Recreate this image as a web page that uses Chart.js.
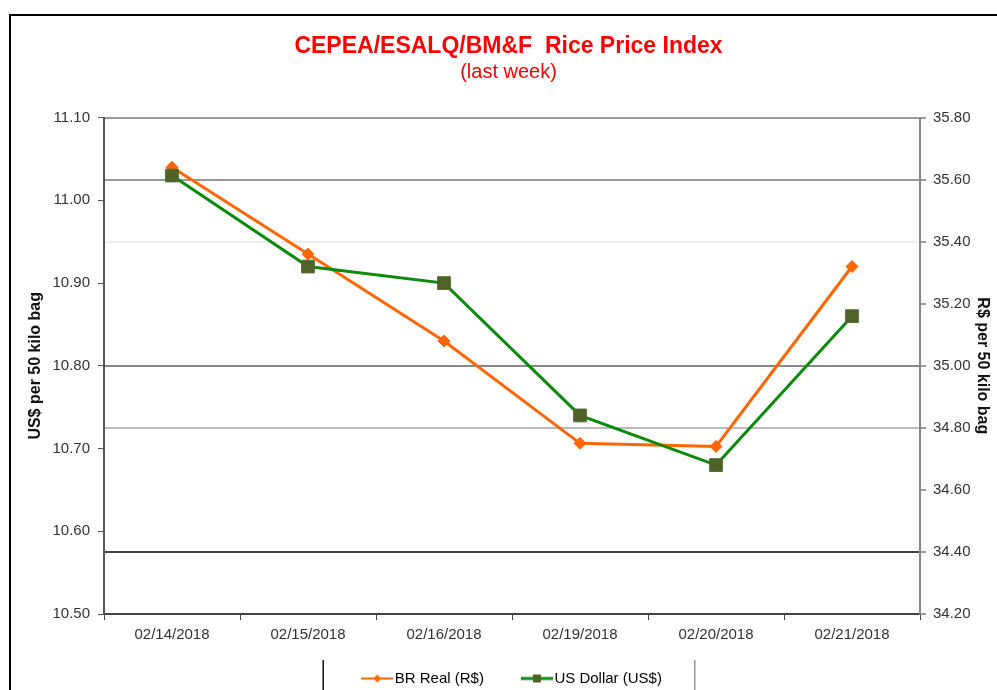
<!DOCTYPE html>
<html>
<head>
<meta charset="utf-8">
<script src="https://cdn.jsdelivr.net/npm/chart.js@4.4.1/dist/chart.umd.min.js"></script>
<style>
    body { margin: 0; background: #fff; }
</style>
</head>
<body>
<canvas id="GraficoArroz" width="997" height="690"></canvas>
<script>
var datas = ['02/14/2018', '02/15/2018', '02/16/2018', '02/19/2018', '02/20/2018', '02/21/2018'];
var realBR = [35.64, 35.36, 35.08, 34.75, 34.74, 35.32];
var dolarUS = [11.03, 10.92, 10.90, 10.74, 10.68, 10.86];
var faixaDolar = [10.50, 11.10, 0.10];
var faixaReal = [34.20, 35.80, 0.20];

var fonte = '"Liberation Sans", Arial, sans-serif';

function iconeLegenda(cor, corMarca, tipo) {
    var c = document.createElement('canvas');
    c.width = 65;
    c.height = 12;
    var g = c.getContext('2d');
    g.strokeStyle = cor;
    g.lineWidth = tipo == 'quadrado' ? 3 : 2;
    g.beginPath();
    g.moveTo(33, 6);
    g.lineTo(65, 6);
    g.stroke();
    g.fillStyle = corMarca;
    if (tipo == 'quadrado') {
        g.fillRect(45, 2, 8, 8);
    } else {
        g.beginPath();
        g.moveTo(49, 2);
        g.lineTo(53, 6);
        g.lineTo(49, 10);
        g.lineTo(45, 6);
        g.closePath();
        g.fill();
    }
    return c;
}

var corGradeReal = ['rgba(0,0,0,0)', '#444', 'rgba(0,0,0,0)', '#bbb', '#888', 'rgba(0,0,0,0)', '#eee', '#999', '#999'];

var moldura = {
    id: 'moldura',
    beforeDraw: function (chart) {
        var ctx = chart.ctx;
        ctx.save();
        ctx.fillStyle = '#fff';
        ctx.fillRect(0, 0, chart.width, chart.height);
        ctx.restore();
    },
    afterDraw: function (chart) {
        var ctx = chart.ctx;
        ctx.save();
        ctx.strokeStyle = '#000';
        ctx.lineWidth = 2;
        ctx.beginPath();
        ctx.moveTo(10, chart.height);
        ctx.lineTo(10, 15);
        ctx.lineTo(chart.width, 15);
        ctx.stroke();

        // caixa da legenda (so os lados aparecem)
        var caixas = chart.legend.legendHitBoxes;
        if (caixas && caixas.length) {
            var esq = caixas[0].left - 11;
            var ult = caixas[caixas.length - 1];
            var dir = ult.left + ult.width + 12;
            ctx.lineWidth = 1.5;
            ctx.strokeStyle = '#111';
            ctx.beginPath();
            ctx.moveTo(esq, 660);
            ctx.lineTo(esq, chart.height);
            ctx.stroke();
            ctx.strokeStyle = '#999';
            ctx.beginPath();
            ctx.moveTo(dir, 660);
            ctx.lineTo(dir, chart.height);
            ctx.stroke();
        }
        ctx.restore();
    }
};

var ctx = document.getElementById("GraficoArroz").getContext('2d');
var grafico = new Chart(ctx, {
    type: 'line',
    data: {
        labels: datas,
        datasets: [{
            label: 'BR Real (R$)',
            data: realBR,
            yAxisID: 'yReal',
            borderColor: '#ff6600',
            backgroundColor: '#ff6600',
            borderWidth: 3,
            pointStyle: 'rectRot',
            pointRadius: 6,
            pointBorderWidth: 1,
            tension: 0,
            order: 2
        }, {
            label: 'US Dollar (US$)',
            data: dolarUS,
            yAxisID: 'yDolar',
            borderColor: '#0a8a0a',
            backgroundColor: '#4f6228',
            pointBorderColor: '#55692f',
            borderWidth: 3,
            pointStyle: 'rect',
            pointRadius: 9,
            pointBorderWidth: 1,
            tension: 0,
            order: 1
        }]
    },
    options: {
        responsive: false,
        animation: false,
        layout: {
            padding: { top: 33, left: 20, right: 0, bottom: -6 }
        },
        font: { family: fonte },
        plugins: {
            title: {
                display: true,
                text: 'CEPEA/ESALQ/BM&F  Rice Price Index',
                color: '#ff0000',
                font: { family: fonte, size: 23, weight: 'bold' },
                padding: { top: 0, bottom: 0 }
            },
            subtitle: {
                display: true,
                text: '(last week)',
                color: '#ff0000',
                font: { family: fonte, size: 20 },
                padding: { top: 0, bottom: 33 }
            },
            legend: {
                position: 'bottom',
                labels: {
                    usePointStyle: true,
                    pointStyleWidth: 53,
                    padding: 10,
                    color: '#222',
                    font: { family: fonte, size: 15 },
                    generateLabels: function (chart) {
                        return [{
                            text: 'BR Real (R$)',
                            pointStyle: iconeLegenda('#ff6600', '#ff6600', 'losango'),
                            fillStyle: '#ff6600',
                            strokeStyle: '#ff6600',
                            lineWidth: 0,
                            datasetIndex: 0
                        }, {
                            text: 'US Dollar (US$)     ',
                            pointStyle: iconeLegenda('#0a8a0a', '#4f6228', 'quadrado'),
                            fillStyle: '#4f6228',
                            strokeStyle: '#0a8a0a',
                            lineWidth: 0,
                            datasetIndex: 1
                        }];
                    }
                }
            },
            tooltip: { enabled: false }
        },
        scales: {
            x: {
                offset: true,
                afterFit: function (escala) { escala.height = 47; },
                grid: { offset: true, drawOnChartArea: false, tickLength: 6, color: '#444' },
                border: { color: '#444', width: 2 },
                ticks: {
                    color: '#333',
                    padding: 6,
                    maxRotation: 0,
                    font: { family: fonte, size: 15 }
                }
            },
            yDolar: {
                position: 'left',
                min: faixaDolar[0],
                max: faixaDolar[1],
                afterFit: function (escala) { escala.width = 84; },
                grid: { drawOnChartArea: false, tickLength: 6, color: '#555' },
                border: { color: '#555', width: 2 },
                title: {
                    display: true,
                    text: 'US$ per 50 kilo bag',
                    color: '#111',
                    font: { family: fonte, size: 16, weight: 'bold' },
                    padding: { top: 6, bottom: 0 }
                },
                ticks: {
                    stepSize: faixaDolar[2],
                    color: '#333',
                    padding: 8,
                    font: { family: fonte, size: 15 },
                    callback: function (v) { return v.toFixed(2); }
                }
            },
            yReal: {
                position: 'right',
                min: faixaReal[0],
                max: faixaReal[1],
                afterFit: function (escala) { escala.width = 77; },
                grid: {
                    drawOnChartArea: true,
                    tickLength: 6,
                    lineWidth: 2,
                    tickWidth: 1.5,
                    tickColor: '#777',
                    color: function (c) { return corGradeReal[c.index] || 'rgba(0,0,0,0)'; }
                },
                border: { color: '#888', width: 2 },
                title: {
                    display: true,
                    text: 'R$ per 50 kilo bag',
                    color: '#111',
                    font: { family: fonte, size: 16, weight: 'bold' },
                    padding: { top: 5, bottom: 0 }
                },
                ticks: {
                    stepSize: faixaReal[2],
                    color: '#333',
                    padding: 7,
                    font: { family: fonte, size: 15 },
                    callback: function (v) { return v.toFixed(2); }
                }
            }
        }
    },
    plugins: [moldura]
});
</script>
</body>
</html>
